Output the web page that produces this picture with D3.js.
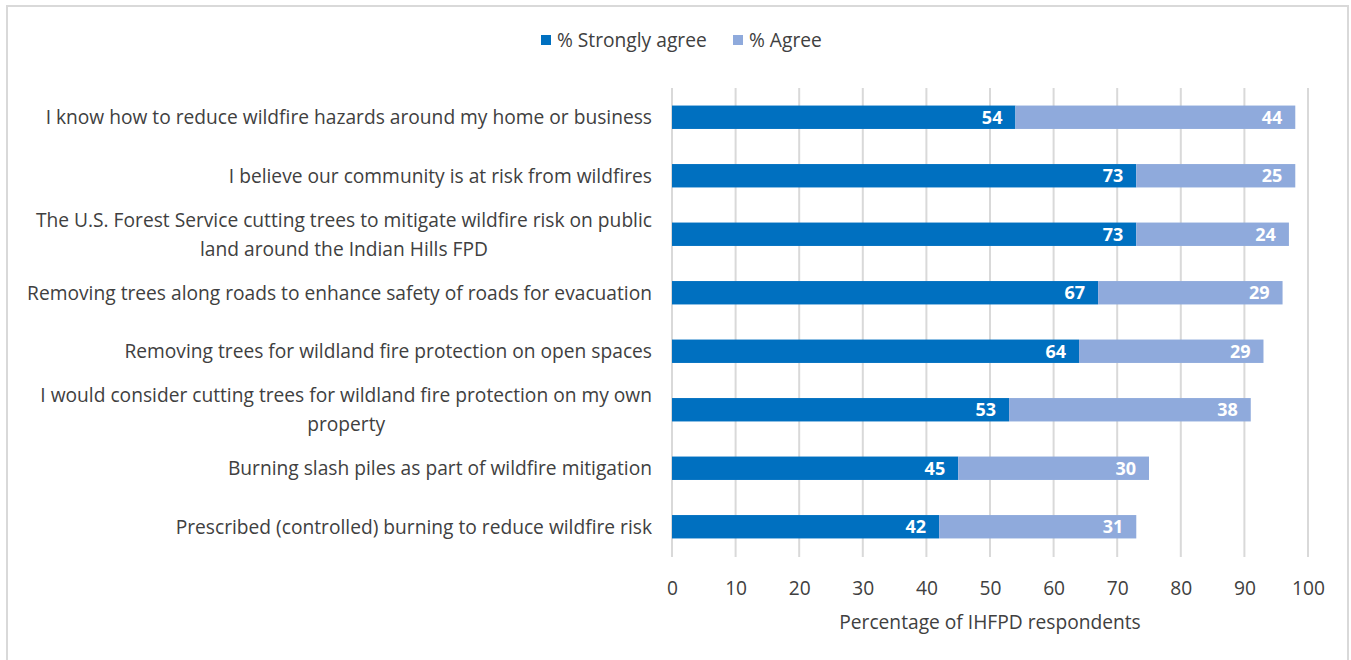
<!DOCTYPE html>
<html><head><meta charset="utf-8">
<script src="https://cdn.jsdelivr.net/npm/d3@7"></script>
<style>
html,body{margin:0;padding:0;background:#fff;}
text{font-family:"Open Sans", sans-serif;}
</style></head>
<body><svg id="c" width="1351" height="660"></svg>
<script>
const categories = [
  "I know how to reduce wildfire hazards around my home or business",
  "I believe our community is at risk from wildfires",
  "The U.S. Forest Service cutting trees to mitigate wildfire risk on public|land around the Indian Hills FPD",
  "Removing trees along roads to enhance safety of roads for evacuation",
  "Removing trees for wildland fire protection on open spaces",
  "I would consider cutting trees for wildland fire protection on my own|property",
  "Burning slash piles as part of wildfire mitigation",
  "Prescribed (controlled) burning to reduce wildfire risk"
];
const stronglyAgree = [54, 73, 73, 67, 64, 53, 45, 42];
const agree = [44, 25, 24, 29, 29, 38, 30, 31];
const seriesNames = ["% Strongly agree", "% Agree"];
const xTicks = [0,10,20,30,40,50,60,70,80,90,100];
const axisTitle = "Percentage of IHFPD respondents";

const colors = ["#0070C0", "#8FAADC"];
const textColor = "#404040";
const FS = 19.2;
const svg = d3.select("#c");

svg.append("rect").attr("x",7).attr("y",6).attr("width",1341).attr("height",660)
  .attr("fill","#fff").attr("stroke","#D9D9D9").attr("stroke-width",2);

const x = d3.scaleLinear().domain([0,100]).range([672,1308]);
const y = d3.scaleBand().domain(categories).range([88,556]).paddingInner(0.6).paddingOuter(0.3);

svg.append("g").selectAll("line").data(xTicks).join("line")
  .attr("x1",d=>x(d)).attr("x2",d=>x(d)).attr("y1",88).attr("y2",557)
  .attr("stroke","#D9D9D9").attr("stroke-width",2);

const axis = d3.axisBottom(x).tickValues(xTicks).tickSize(0).tickPadding(0);
const ag = svg.append("g").attr("transform","translate(0,595)").call(axis);
ag.select(".domain").remove();
ag.selectAll("text").attr("font-size",FS).attr("fill",textColor).attr("dy","0").attr("y",0)
  .style("font-family","'Open Sans', sans-serif");

svg.append("text").attr("x",990).attr("y",629).attr("text-anchor","middle")
  .attr("font-size",FS).attr("fill",textColor).text(axisTitle);

const data = categories.map((c,i)=>({c, s:[stronglyAgree[i], agree[i]]}));
const bw = y.bandwidth();
data.forEach(d=>{
  let x0 = 0;
  d.s.forEach((v,k)=>{
    svg.append("rect").attr("x",x(x0)).attr("y",y(d.c)).attr("width",x(x0+v)-x(x0)).attr("height",bw)
      .attr("fill",colors[k]);
    svg.append("text").attr("x",x(x0+v)-13).attr("y",y(d.c)+bw/2).attr("dy","0.36em")
      .attr("text-anchor","end").attr("font-size",18).attr("font-weight","bold").attr("fill","#fff")
      .text(v);
    x0 += v;
  });
});

data.forEach(d=>{
  const lines = d.c.split("|");
  const cy = y(d.c)+bw/2;
  const lh = 29;
  const t = svg.append("text").attr("font-size",FS).attr("fill",textColor);
  if (lines.length===1){
    t.attr("x",652).attr("y",cy).attr("dy","0.36em").attr("text-anchor","end").text(lines[0]);
  } else {
    const tmp = svg.append("text").attr("font-size",FS).text(lines[0]);
    const w = tmp.node().getComputedTextLength(); tmp.remove();
    const cx = 652 - w/2;
    lines.forEach((l,j)=>{
      t.append("tspan").attr("x",cx).attr("text-anchor","middle")
        .attr("y",cy + (j-(lines.length-1)/2)*lh).attr("dy","0.36em").text(l);
    });
  }
});

const lg = svg.append("g");
const legendX = [541, 733];
seriesNames.forEach((n,k)=>{
  lg.append("rect").attr("x",legendX[k]).attr("y",35).attr("width",10).attr("height",10).attr("fill",colors[k]);
  lg.append("text").attr("x",legendX[k]+16).attr("y",40).attr("dy","0.36em").attr("font-size",FS)
    .attr("fill",textColor).text(n);
});
</script></body></html>
